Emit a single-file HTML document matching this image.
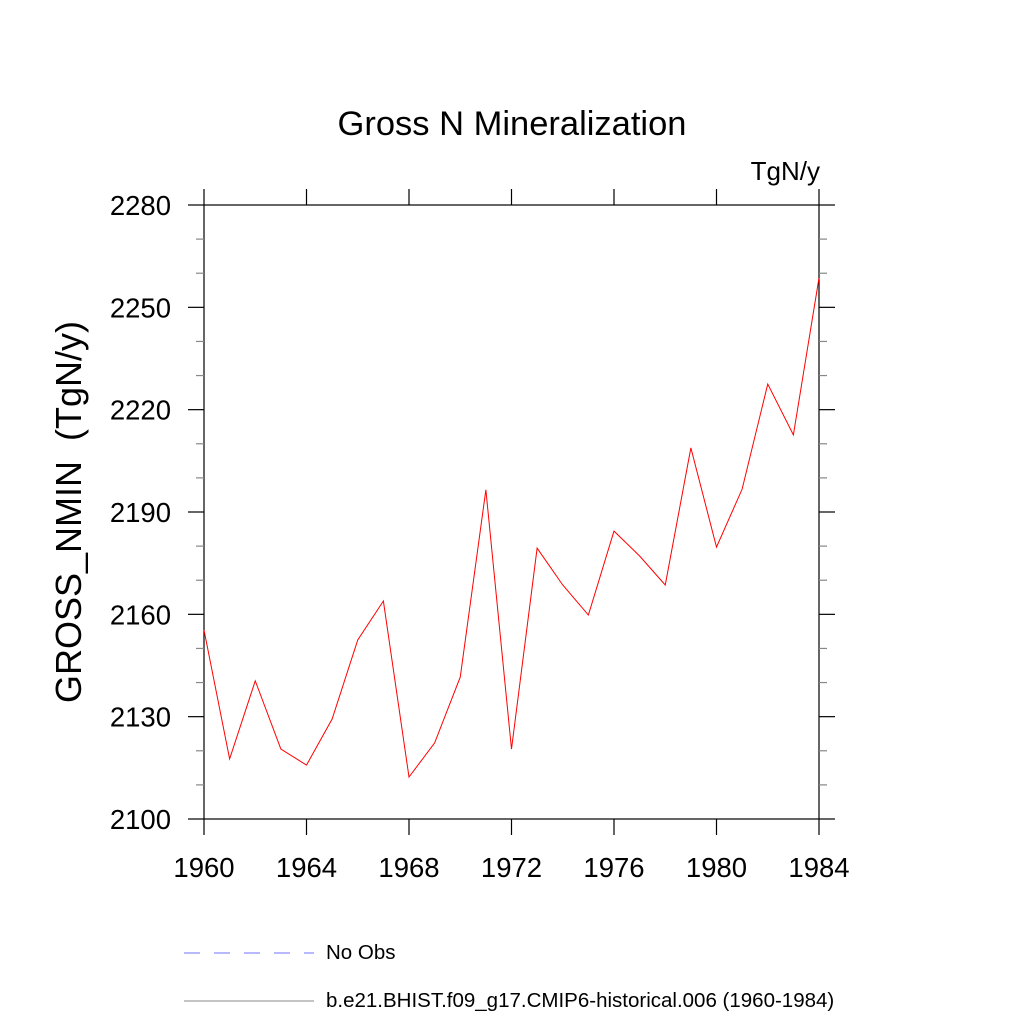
<!DOCTYPE html>
<html><head><meta charset="utf-8"><style>body{margin:0;background:#fff}svg{display:block}</style></head>
<body>
<svg width="1024" height="1024" xmlns="http://www.w3.org/2000/svg" font-family="Liberation Sans, sans-serif">
<rect width="1024" height="1024" fill="#fff"/>
<text x="512" y="135" font-size="34.5" text-anchor="middle">Gross N Mineralization</text>
<text x="820" y="180" font-size="26" text-anchor="end">TgN/y</text>
<text transform="translate(81,512) rotate(-90)" font-size="36" text-anchor="middle" xml:space="preserve">GROSS_NMIN  (TgN/y)</text>
<g id="axes"></g>
<g id="series"></g>
<g>
<line x1="184" y1="953" x2="314" y2="953" stroke="#7070ff" stroke-width="1" stroke-dasharray="16,14"/>
<text x="326" y="959" font-size="20.5">No Obs</text>
<line x1="184" y1="1001" x2="314" y2="1001" stroke="#888" stroke-width="1"/>
<text x="326" y="1007" font-size="20.5">b.e21.BHIST.f09_g17.CMIP6-historical.006 (1960-1984)</text>
</g>
</svg>
<script>
const years=[1960,1961,1962,1963,1964,1965,1966,1967,1968,1969,1970,1971,1972,1973,1974,1975,1976,1977,1978,1979,1980,1981,1982,1983,1984];
const values=[2155.4,2117.6,2140.5,2120.5,2115.8,2129.3,2152.5,2163.9,2112.3,2122.3,2141.6,2196.5,2120.5,2179.4,2168.6,2159.8,2184.4,2177.1,2168.6,2208.8,2179.7,2196.7,2227.5,2212.6,2258.6];
const xTicks=[1960,1964,1968,1972,1976,1980,1984];
const yTicks=[2100,2130,2160,2190,2220,2250,2280];
const NS="http://www.w3.org/2000/svg";
const L=204,R=819,T=205,B=819;
const xs=v=>L+(v-1960)/(1984-1960)*(R-L);
const ys=v=>B-(v-2100)/(2280-2100)*(B-T);
function mk(tag,attrs,parent){const e=document.createElementNS(NS,tag);for(const k in attrs)e.setAttribute(k,attrs[k]);parent.appendChild(e);return e;}
const ax=document.getElementById('axes');
const fr=mk('rect',{x:L,y:T,width:R-L,height:B-T,fill:'none',stroke:'#000','stroke-width':1.2},ax);


for(const t of xTicks){const x=xs(t);
 const a=mk('line',{x1:x,y1:B,x2:x,y2:B+16,stroke:'#000','stroke-width':1.2},ax);
 
 
 mk('line',{x1:x,y1:T-16,x2:x,y2:T,stroke:'#000','stroke-width':1.2},ax);
 const tx=mk('text',{x:x,y:877,'font-size':27.5,'text-anchor':'middle'},ax);tx.textContent=t;
 
 
}
for(let v=2100;v<=2280;v+=10){const y=ys(v);const maj=(v-2100)%30===0;const len=maj?16:8;
 const col=maj?'#000':'#888';
 mk('line',{x1:L-len,y1:y,x2:L,y2:y,stroke:col,'stroke-width':1.2},ax);
 mk('line',{x1:R,y1:y,x2:R+len,y2:y,stroke:col,'stroke-width':1.2},ax);
}
for(const t of yTicks){const tx=mk('text',{x:171,y:ys(t)+10,'font-size':27.5,'text-anchor':'end'},ax);tx.textContent=t;
 
 
}
const pts=years.map((y,i)=>xs(y)+','+ys(values[i])).join(' ');
const pl=mk('polyline',{points:pts,fill:'none',stroke:'#ff0000','stroke-width':1},document.getElementById('series'));


</script>
</body></html>
